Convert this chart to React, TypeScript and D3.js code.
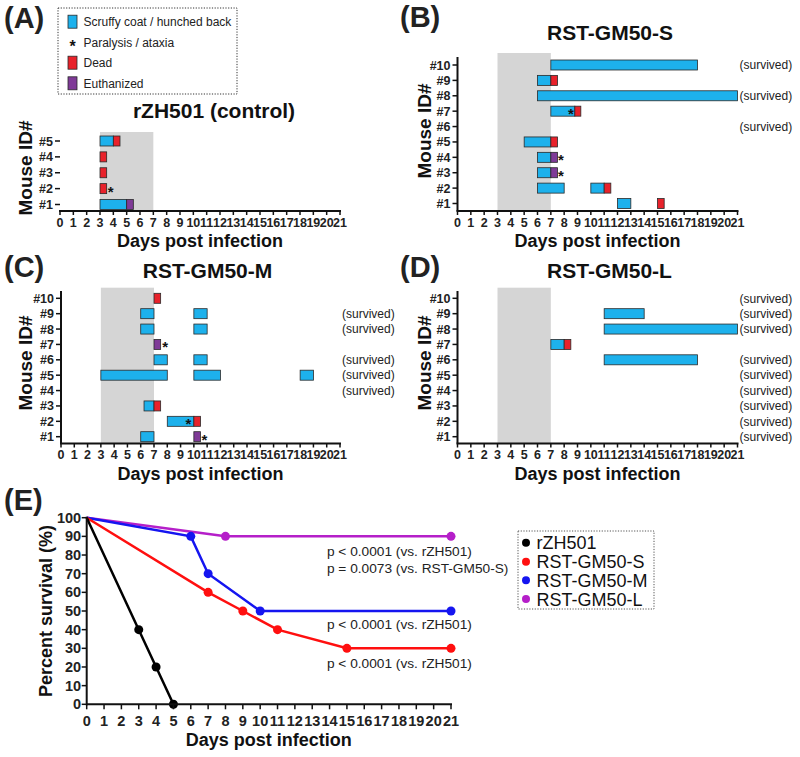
import React from 'react';
import * as d3 from 'd3';

// ---------- DATA ----------
const DAYS = d3.range(0, 22);
const SHADE_DAYS = [3, 7];
// segment: [mouse#, startDay, endDay, kind]  kind: S = scruffy coat, D = dead, E = euthanized
type Seg = [number, number, number, string];

const segA: Seg[] = [
  [5, 3, 4, 'S'], [5, 4, 4.5, 'D'],
  [4, 3, 3.5, 'D'],
  [3, 3, 3.5, 'D'],
  [2, 3, 3.5, 'D'],
  [1, 3, 5, 'S'], [1, 5, 5.5, 'E'],
];
const starsA: [number, number][] = [[2, 3.8]];
const survivedA: number[] = [];

const segB: Seg[] = [
  [10, 7, 18, 'S'],
  [9, 6, 7, 'S'], [9, 7, 7.5, 'D'],
  [8, 6, 21, 'S'],
  [7, 7, 8.8, 'S'], [7, 8.8, 9.25, 'D'],
  [5, 5, 7, 'S'], [5, 7, 7.5, 'D'],
  [4, 6, 7, 'S'], [4, 7, 7.5, 'E'],
  [3, 6, 7, 'S'], [3, 7, 7.5, 'E'],
  [2, 6, 8, 'S'], [2, 10, 11, 'S'], [2, 11, 11.5, 'D'],
  [1, 12, 13, 'S'], [1, 15, 15.5, 'D'],
];
const starsB: [number, number][] = [[7, 8.5], [4, 7.75], [3, 7.75]];
const survivedB: number[] = [10, 8, 6];

const segC: Seg[] = [
  [10, 7, 7.5, 'D'],
  [9, 6, 7, 'S'], [9, 10, 11, 'S'],
  [8, 6, 7, 'S'], [8, 10, 11, 'S'],
  [7, 7, 7.5, 'E'],
  [6, 7, 8, 'S'], [6, 10, 11, 'S'],
  [5, 3, 8, 'S'], [5, 10, 12, 'S'], [5, 18, 19, 'S'],
  [3, 6.25, 7, 'S'], [3, 7, 7.5, 'D'],
  [2, 8, 10, 'S'], [2, 10, 10.5, 'D'],
  [1, 6, 7, 'S'], [1, 10, 10.5, 'E'],
];
const starsC: [number, number][] = [[7, 7.85], [2, 9.6], [1, 10.8]];
const survivedC: number[] = [9, 8, 6, 5, 4];

const segD: Seg[] = [
  [9, 11, 14, 'S'],
  [8, 11, 21, 'S'],
  [7, 7, 8, 'S'], [7, 8, 8.5, 'D'],
  [6, 11, 18, 'S'],
];
const starsD: [number, number][] = [];
const survivedD: number[] = [10, 9, 8, 6, 5, 4, 3, 2, 1];

const legendLabelsA = ['Scruffy coat / hunched back', 'Paralysis / ataxia', 'Dead', 'Euthanized'];

// survival curves
const seriesNames = ['rZH501', 'RST-GM50-S', 'RST-GM50-M', 'RST-GM50-L'];
const survDaysZH = [0, 3, 4, 5];
const survPctZH = [100, 40, 20, 0];
const survDaysS = [0, 7, 9, 11, 15, 21];
const survPctS = [100, 60, 50, 40, 30, 30];
const survDaysM = [0, 6, 7, 10, 21];
const survPctM = [100, 90, 70, 50, 50];
const survDaysL = [0, 8, 21];
const survPctL = [100, 90, 90];
const pctTicks = d3.range(0, 101, 10);
const pTexts = [
  'p < 0.0001 (vs. rZH501)',
  'p = 0.0073 (vs. RST-GM50-S)',
  'p < 0.0001 (vs. rZH501)',
  'p < 0.0001 (vs. rZH501)',
];

// ---------- STYLE ----------
const FONT = '"Liberation Sans", Arial, Helvetica, sans-serif';
const KIND_COLOR: Record<string, string> = { S: '#1db1ec', D: '#e8222b', E: '#7f3a97' };
const SERIES_COLOR = ['#000000', '#ff0f0f', '#1515f0', '#b51fc9'];
const SHADE = '#d5d5d5';

type PanelCfg = {
  letter: string; letterX: number; letterY: number;
  title: string; titleX: number; titleY: number;
  n: number; x0: number; x1: number; yTop: number; yBot: number;
  axisY: number; shadeTop: number; yLineTop: number | null;
  ylabX: number; ylabY: number;
  segs: Seg[]; stars: [number, number][]; survived: number[];
};

const panels: PanelCfg[] = [
  { letter: '(A)', letterX: 4, letterY: 28, title: 'rZH501 (control)', titleX: 214, titleY: 118,
    n: 5, x0: 60, x1: 340, yTop: 141, yBot: 204.5, axisY: 211, shadeTop: 132, yLineTop: null,
    ylabX: 32, ylabY: 168, segs: segA, stars: starsA, survived: survivedA },
  { letter: '(B)', letterX: 400, letterY: 27, title: 'RST-GM50-S', titleX: 610, titleY: 40,
    n: 10, x0: 457.5, x1: 737.5, yTop: 65, yBot: 203.5, axisY: 211, shadeTop: 53, yLineTop: 57,
    ylabX: 431, ylabY: 131, segs: segB, stars: starsB, survived: survivedB },
  { letter: '(C)', letterX: 4, letterY: 277, title: 'RST-GM50-M', titleX: 207.5, titleY: 278,
    n: 10, x0: 61, x1: 340, yTop: 298.3, yBot: 436.7, axisY: 443.5, shadeTop: 287.7, yLineTop: 291,
    ylabX: 32, ylabY: 363, segs: segC, stars: starsC, survived: survivedC },
  { letter: '(D)', letterX: 400, letterY: 277, title: 'RST-GM50-L', titleX: 609.5, titleY: 278,
    n: 10, x0: 457.5, x1: 737.5, yTop: 298.3, yBot: 436.7, axisY: 443.5, shadeTop: 287.7, yLineTop: 291,
    ylabX: 431, ylabY: 363, segs: segD, stars: starsD, survived: survivedD },
];

function BarPanel({ p }: { p: PanelCfg }) {
  const x = d3.scaleLinear().domain([0, 21]).range([p.x0, p.x1]);
  const y = d3.scaleLinear().domain([1, p.n]).range([p.yBot, p.yTop]);
  const rows = d3.range(1, p.n + 1);
  const bh = 10;
  return (
    <g>
      <text x={p.letterX} y={p.letterY} fontSize={29} fontWeight="bold" fill="#222">{p.letter}</text>
      <text x={p.titleX} y={p.titleY} fontSize={21} fontWeight="bold" textAnchor="middle" fill="#111">{p.title}</text>
      <rect x={x(SHADE_DAYS[0])} y={p.shadeTop} width={x(SHADE_DAYS[1]) - x(SHADE_DAYS[0])}
        height={p.axisY - p.shadeTop} fill={SHADE} />
      {p.segs.map((s, i) => (
        <rect key={i} x={x(s[1])} y={y(s[0]) - bh / 2} width={x(s[2]) - x(s[1])} height={bh}
          fill={KIND_COLOR[s[3]]} stroke="#2a2a2a" strokeWidth={0.8} />
      ))}
      {p.stars.map((s, i) => (
        <text key={i} x={x(s[1])} y={y(s[0]) + 8} fontSize={15} fontWeight="bold" textAnchor="middle" fill="#111">*</text>
      ))}
      {p.survived.map((m) => (
        <text key={m} x={x(21) + 2} y={y(m) + 4.3} fontSize={12} fill="#222">(survived)</text>
      ))}
      {/* x axis */}
      <line x1={x(0) - 1} x2={x(21) + 1} y1={p.axisY} y2={p.axisY} stroke="#111" strokeWidth={2} />
      {DAYS.map((d) => (
        <g key={d}>
          <line x1={x(d)} x2={x(d)} y1={p.axisY} y2={p.axisY + 4} stroke="#111" strokeWidth={1.5} />
          <text x={x(d)} y={p.axisY + 15.5} fontSize={12.5} fontWeight="bold" textAnchor="middle" fill="#222">{d}</text>
        </g>
      ))}
      <text x={(x(0) + x(21)) / 2} y={p.axisY + 36} fontSize={18} fontWeight="bold" textAnchor="middle" fill="#111">Days post infection</text>
      {/* y axis */}
      {p.yLineTop !== null && (
        <line x1={x(0)} x2={x(0)} y1={p.yLineTop} y2={p.axisY} stroke="#111" strokeWidth={2} />
      )}
      {rows.map((r) => (
        <g key={r}>
          <line x1={x(0) - 5} x2={x(0)} y1={y(r)} y2={y(r)} stroke="#111" strokeWidth={1.5} />
          <text x={x(0) - 7} y={y(r) + 4.5} fontSize={12.5} fontWeight="bold" textAnchor="end" fill="#222">#{r}</text>
        </g>
      ))}
      <text transform={`translate(${p.ylabX},${p.ylabY}) rotate(-90)`} fontSize={19} fontWeight="bold" textAnchor="middle" fill="#111">Mouse ID#</text>
    </g>
  );
}

function LegendA() {
  const ys = [21.7, 42.7, 62.7, 83.3];
  const kinds = ['S', '*', 'D', 'E'];
  return (
    <g>
      <rect x={58} y={8} width={179} height={86} fill="none" stroke="#333" strokeWidth={1} strokeDasharray="1.2,1.5" />
      {kinds.map((k, i) => (
        <g key={i}>
          {k === '*' ? (
            <text x={72.5} y={ys[i] + 9} fontSize={16} fontWeight="bold" textAnchor="middle" fill="#111">*</text>
          ) : (
            <rect x={68} y={ys[i] - 6.5} width={9} height={13} fill={KIND_COLOR[k]} stroke="#2a2a2a" strokeWidth={0.8} />
          )}
          <text x={83.5} y={ys[i] + 4.3} fontSize={12} fill="#222">{legendLabelsA[i]}</text>
        </g>
      ))}
    </g>
  );
}

function SurvivalPanel() {
  const x = d3.scaleLinear().domain([0, 21]).range([86.7, 451]);
  const y = d3.scaleLinear().domain([0, 100]).range([704.3, 517.7]);
  const series = [
    { days: survDaysZH, pct: survPctZH },
    { days: survDaysS, pct: survPctS },
    { days: survDaysM, pct: survPctM },
    { days: survDaysL, pct: survPctL },
  ];
  const line = d3.line<[number, number]>().x((d) => x(d[0])).y((d) => y(d[1]));
  const drawOrder = [3, 2, 1, 0];
  const pPos: [number, number][] = [[13.85, 556], [13.85, 573], [13.85, 629], [13.85, 668]];
  const legY = [542.7, 561.7, 580.3, 599];
  return (
    <g>
      <text x={4} y={510} fontSize={29} fontWeight="bold" fill="#222">(E)</text>
      {drawOrder.map((si) => {
        const s = series[si];
        const pts = s.days.map((d, i) => [d, s.pct[i]] as [number, number]);
        return (
          <g key={si}>
            <path d={line(pts) || ''} fill="none" stroke={SERIES_COLOR[si]} strokeWidth={2.5} />
            {pts.slice(1).map((pt, i) => (
              <circle key={i} cx={x(pt[0])} cy={y(pt[1])} r={4.5} fill={SERIES_COLOR[si]} />
            ))}
          </g>
        );
      })}
      {/* axes */}
      <line x1={x(0)} x2={x(21) + 1} y1={y(0)} y2={y(0)} stroke="#111" strokeWidth={2} />
      <line x1={x(0)} x2={x(0)} y1={y(100) - 1} y2={y(0) + 1} stroke="#111" strokeWidth={2} />
      {DAYS.map((d) => (
        <g key={d}>
          <line x1={x(d)} x2={x(d)} y1={y(0)} y2={y(0) + 5} stroke="#111" strokeWidth={1.5} />
          <text x={x(d)} y={725.5} fontSize={14.5} fontWeight="bold" textAnchor="middle" fill="#222">{d}</text>
        </g>
      ))}
      {pctTicks.map((t) => (
        <g key={t}>
          <line x1={x(0) - 5} x2={x(0)} y1={y(t)} y2={y(t)} stroke="#111" strokeWidth={1.5} />
          <text x={x(0) - 5.5} y={y(t) + 5} fontSize={14.5} fontWeight="bold" textAnchor="end" fill="#222">{t}</text>
        </g>
      ))}
      <text x={(x(0) + x(21)) / 2} y={746} fontSize={18} fontWeight="bold" textAnchor="middle" fill="#111">Days post infection</text>
      <text transform={`translate(52,611) rotate(-90)`} fontSize={18} fontWeight="bold" textAnchor="middle" fill="#111">Percent survival (%)</text>
      {pTexts.map((t, i) => (
        <text key={i} x={x(pPos[i][0])} y={pPos[i][1]} fontSize={13.7} fill="#222">{t}</text>
      ))}
      {/* legend */}
      <rect x={518} y={531} width={136} height={78} fill="none" stroke="#555" strokeWidth={1} strokeDasharray="1.2,1.5" />
      {seriesNames.map((n, i) => (
        <g key={n}>
          <circle cx={526} cy={legY[i]} r={4} fill={SERIES_COLOR[i]} />
          <text x={536.5} y={legY[i] + 6.5} fontSize={18} fill="#111">{n}</text>
        </g>
      ))}
    </g>
  );
}

export default function App() {
  return (
    <svg width={800} height={757} viewBox="0 0 800 757"
      style={{ position: 'absolute', left: 0, top: 0, background: '#fff', fontFamily: FONT }}>
      <rect x={0} y={0} width={800} height={757} fill="#fff" />
      <LegendA />
      {panels.map((p) => <BarPanel key={p.letter} p={p} />)}
      <SurvivalPanel />
    </svg>
  );
}
